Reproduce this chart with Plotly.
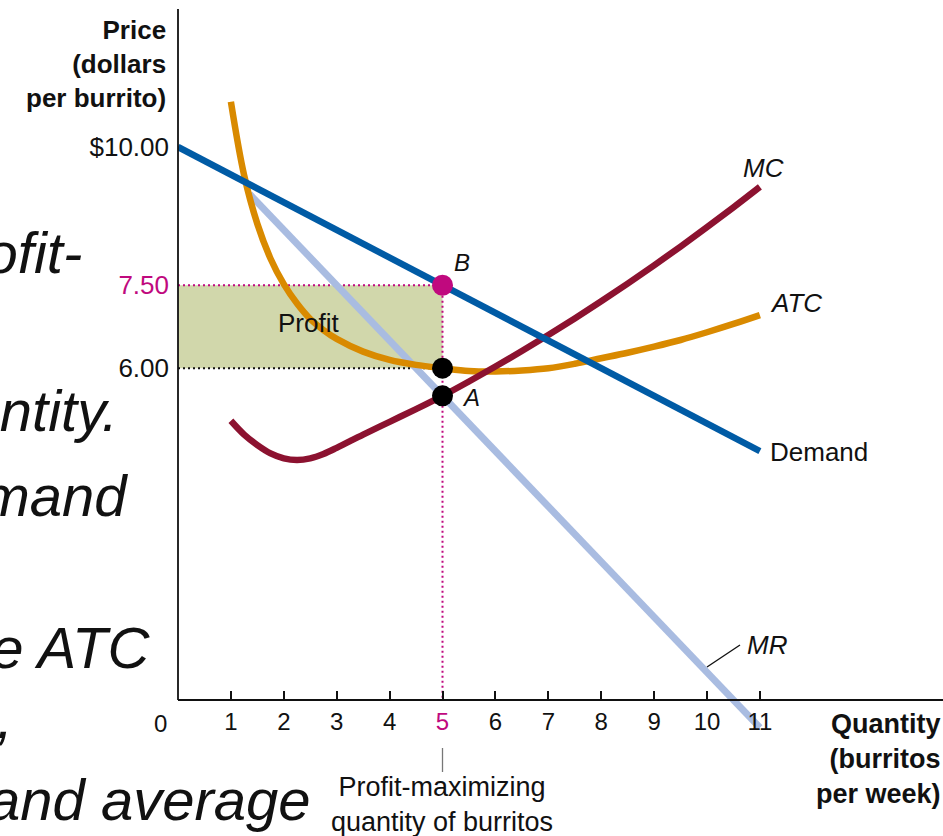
import plotly.graph_objects as go

# ---- data -------------------------------------------------------------
# quantity grid for the cost curves (burritos per week)
q_cost = [1.0, 1.25, 1.5, 1.75, 2.0, 2.25, 2.5, 2.75, 3.0, 3.5, 4.0, 4.5, 5.0,
          5.5, 6.0, 6.5, 7.0, 7.5, 8.0, 8.5, 9.0, 9.5, 10.0, 10.5, 11.0]
# average total cost (dollars per burrito)
atc = [10.82, 9.49, 8.61, 7.98, 7.52, 7.17, 6.89, 6.69, 6.53, 6.30, 6.15, 6.06, 6.00,
       5.95, 5.94, 5.96, 6.00, 6.08, 6.18, 6.28, 6.39, 6.51, 6.65, 6.80, 6.96]
# marginal cost (dollars per burrito)
mc = [5.05, 4.80, 4.61, 4.46, 4.37, 4.34, 4.37, 4.45, 4.56, 4.80, 5.03, 5.26, 5.50,
      5.76, 6.03, 6.31, 6.60, 6.90, 7.21, 7.53, 7.86, 8.20, 8.55, 8.91, 9.28]
# demand and marginal revenue
q_demand = [0.0, 11.0]
p_demand = [10.0, 4.5]
q_mr = [1.35, 11.0]
p_mr = [9.15, -0.5]

# profit-maximizing point
q_star = 5
price_b = 7.5
atc_star = 6.0
mc_star = 5.5

x_ticks = [1, 2, 3, 4, 5, 6, 7, 8, 9, 10, 11]
y_ticks = [6.0, 7.5, 10.0]
y_tick_text = ["6.00", "7.50", "$10.00"]

# ---- styling ----------------------------------------------------------
FONT = "Liberation Sans, Arial, Helvetica, sans-serif"
MAGENTA = "#c0097e"
BLUE = "#005ba5"
MR_BLUE = "#a9bce1"
ORANGE = "#d98a00"
CRIMSON = "#8c1230"
PROFIT_FILL = "#d1d7ab"
INK = "#111111"

# pixel geometry of the plotting frame
W, H = 943, 836
L, T, B = 178, 9, 76
X_UNIT, Y_UNIT = 52.9, 55.3      # pixels per burrito / per dollar
AXIS_PY = 700                    # pixel row of the quantity axis
plot_h = H - T - B
x_max = (W - L) / X_UNIT
y_max = (AXIS_PY - T) / Y_UNIT
y_min = (AXIS_PY - (H - B)) / Y_UNIT
axis_pos = ((H - B) - AXIS_PY) / plot_h


def dx(px):
    return (px - L) / X_UNIT


def dy(py):
    return (AXIS_PY - py) / Y_UNIT


def paper_x(px):
    return (px - L) / (W - L)


def paper_y(py):
    return ((H - B) - py) / plot_h


fig = go.Figure()

# profit rectangle between ATC and price at the chosen quantity
fig.add_trace(go.Scatter(
    x=[0, q_star, q_star, 0, 0],
    y=[atc_star, atc_star, price_b, price_b, atc_star],
    fill="toself", fillcolor=PROFIT_FILL, line=dict(width=0),
    mode="lines", hoverinfo="skip"))

# dotted guide lines
fig.add_trace(go.Scatter(
    x=[0, q_star, q_star], y=[price_b, price_b, 0], mode="lines",
    line=dict(color=MAGENTA, width=2, dash="2px,3px"), hoverinfo="skip"))
fig.add_trace(go.Scatter(
    x=[0, q_star], y=[atc_star, atc_star], mode="lines",
    line=dict(color=INK, width=2, dash="2px,3px"), hoverinfo="skip"))

# curves
fig.add_trace(go.Scatter(x=q_mr, y=p_mr, mode="lines",
                         line=dict(color=MR_BLUE, width=7), name="MR"))
fig.add_trace(go.Scatter(x=q_cost, y=atc, mode="lines",
                         line=dict(color=ORANGE, width=6.5, shape="spline", smoothing=1.0),
                         name="ATC"))
fig.add_trace(go.Scatter(x=q_cost, y=mc, mode="lines",
                         line=dict(color=CRIMSON, width=6.5, shape="spline", smoothing=1.0),
                         name="MC"))
fig.add_trace(go.Scatter(x=q_demand, y=p_demand, mode="lines",
                         line=dict(color=BLUE, width=6.5), name="Demand"))

# points A, ATC at q*, and B
fig.add_trace(go.Scatter(x=[q_star, q_star], y=[atc_star, mc_star], mode="markers",
                         marker=dict(color="black", size=21), hoverinfo="skip"))
fig.add_trace(go.Scatter(x=[q_star], y=[price_b], mode="markers",
                         marker=dict(color=MAGENTA, size=21), hoverinfo="skip"))

ann = []


def label(text, px, py, size=26, xanchor="left", italic=False, bold=False,
          color=INK, align="left", ref="data"):
    font = dict(family=FONT, size=size, color=color)
    if italic:
        font["style"] = "italic"
    if bold:
        font["weight"] = "bold"
    if ref == "data":
        ann.append(dict(x=dx(px), y=dy(py), xref="x", yref="y", text=text,
                        showarrow=False, xanchor=xanchor, yanchor="middle",
                        font=font, align=align))
    else:
        ann.append(dict(x=paper_x(px), y=paper_y(py), xref="paper", yref="paper",
                        text=text, showarrow=False, xanchor=xanchor,
                        yanchor="middle", font=font, align=align))


# curve labels
label("MC", 741, 168, italic=True)
label("ATC", 768, 303, italic=True)
label("Demand", 768, 452)
label("MR", 745, 645, italic=True)
label("B", 462, 262, size=24, xanchor="center", italic=True)
label("A", 471, 397, size=24, xanchor="center", italic=True)
label("Profit", 308, 323, xanchor="center")

# axis titles
label("Price<br>(dollars<br>per burrito)", 168, 64, size=26, xanchor="right",
      bold=True, align="right", ref="paper")
label("Quantity<br>(burritos<br>per week)", 943, 759, size=27, xanchor="right",
      bold=True, align="right", ref="paper")
label("0", 160, 723, size=24, xanchor="center", ref="paper")
label("Profit-maximizing<br>quantity of burritos", 442, 804, size=27,
      xanchor="center", align="center", ref="paper")

# slide text behind the figure
for txt, right_px, base_px in [("profit-", 84, 273), ("quantity.", 120, 430),
                               ("demand", 130, 515), ("the ATC", 152, 667),
                               ("curve,", 15, 737), ("and average", 312, 820)]:
    label(txt, right_px, base_px - 20, size=58, xanchor="right", italic=True,
          ref="paper")

fig.update_layout(annotations=ann)

# MR leader line, y-axis line and the leader under the quantity label
fig.add_shape(type="line", xref="x", yref="y", x0=dx(707), y0=dy(667), x1=dx(740),
              y1=dy(645), line=dict(color=INK, width=1.3))
fig.add_shape(type="line", xref="paper", yref="paper", x0=0, x1=0, y0=axis_pos, y1=1,
              line=dict(color=INK, width=1.8))
fig.add_shape(type="line", xref="x", yref="paper", x0=q_star, x1=q_star,
              y0=paper_y(748), y1=paper_y(772), line=dict(color="#777777", width=1.3))

x_tick_text = [f"<span style='color:{MAGENTA}'>{v}</span>" if v == q_star else str(v)
               for v in x_ticks]
y_tick_text_col = [f"<span style='color:{MAGENTA}'>{t}</span>" if v == price_b else t
                   for v, t in zip(y_ticks, y_tick_text)]

fig.update_layout(
    width=W, height=H,
    margin=dict(l=L, r=0, t=T, b=B, pad=0),
    paper_bgcolor="white", plot_bgcolor="white",
    showlegend=False,
    xaxis=dict(range=[0, x_max], showgrid=False, zeroline=False,
               showline=True, linecolor=INK, linewidth=1.8,
               ticks="inside", ticklen=8, tickwidth=1.5, tickcolor=INK,
               tickvals=x_ticks, ticktext=x_tick_text,
               tickfont=dict(family=FONT, size=24, color=INK),
               anchor="free", position=axis_pos, fixedrange=True),
    yaxis=dict(range=[y_min, y_max], showgrid=False, zeroline=False,
               showline=False, ticks="", tickvals=y_ticks, ticktext=y_tick_text_col,
               tickfont=dict(family=FONT, size=26, color=INK),
               ticklabelstandoff=8, fixedrange=True),
)

fig.write_html("out.html")
